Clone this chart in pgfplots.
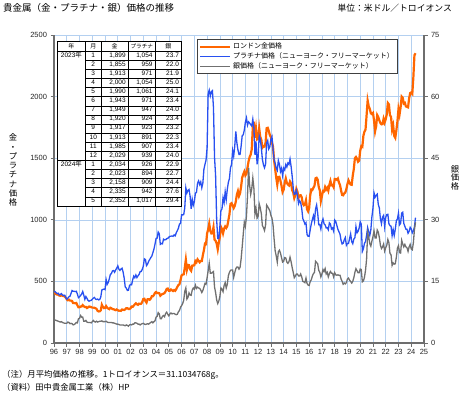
\documentclass[border=0pt]{standalone}
\usepackage{pgfplots}
\pgfplotsset{compat=1.18}
\usepackage{pgfplotstable}
\usepackage{array}
\usepackage{fontspec}
\setmainfont{Liberation Sans}
\newfontfamily\jp{Noto Sans CJK JP}
\definecolor{goldc}{RGB}{255,102,0}
\definecolor{platc}{RGB}{40,80,240}
\definecolor{silverc}{RGB}{112,112,112}
\definecolor{gridblue}{RGB}{180,208,240}
\definecolor{axisgrey}{RGB}{110,110,110}
\pgfplotstableread{
g p s
399 416 5.5
405 418 5.6
396 408 5.5
393 400 5.4
392 404 5.3
385 390 5.2
383 395 5.1
388 401 5.2
383 389 5.0
381 386 4.9
378 388 4.8
369 371 4.8
355 356 4.8
347 364 5.1
352 375 5.0
344 379 4.7
344 402 4.8
341 426 4.7
324 420 4.4
324 420 4.5
323 417 4.7
325 420 5.0
306 397 4.9
289 368 5.9
289 375 6.0
297 386 6.7
296 397 6.3
308 418 6.3
299 389 5.3
292 354 5.3
293 377 5.5
284 363 5.1
289 346 5.0
296 339 5.0
294 344 5.0
291 346 4.9
287 355 5.2
287 364 5.5
286 370 5.2
282 357 5.1
277 353 5.3
261 357 5.1
256 350 5.2
257 353 5.3
265 373 5.3
311 430 5.4
293 435 5.2
283 438 5.2
284 433 5.2
300 515 5.3
286 476 5.1
280 491 5.0
275 521 5.0
286 556 5.0
282 564 5.0
275 585 4.9
274 588 4.9
270 574 4.8
266 593 4.7
272 607 4.6
266 626 4.6
262 600 4.5
263 589 4.4
261 600 4.4
272 607 4.4
270 576 4.4
268 527 4.3
273 455 4.2
283 445 4.4
283 427 4.3
276 428 4.1
276 466 4.4
282 475 4.5
296 472 4.4
294 513 4.6
303 543 4.6
314 530 4.9
322 552 4.9
314 531 4.8
310 545 4.6
319 556 4.6
317 579 4.4
319 580 4.6
333 597 4.7
357 624 4.8
359 683 4.6
340 677 4.5
328 628 4.6
355 640 4.7
356 663 4.6
351 677 4.8
360 693 5.0
379 705 5.2
379 733 4.9
390 762 5.2
407 802 5.4
414 849 6.3
405 851 6.5
406 901 7.4
404 887 7.1
384 801 5.9
392 808 5.9
398 805 6.5
400 843 6.7
406 837 6.4
420 838 7.2
439 847 7.5
442 849 7.0
424 858 6.6
424 866 7.1
434 867 7.3
428 869 7.1
422 866 7.2
430 878 7.2
424 870 7.0
438 895 6.9
456 912 7.0
470 931 7.6
476 965 7.9
510 971 8.7
549 1040 9.1
555 1040 9.6
557 1042 10.4
610 1097 12.6
676 1260 13.4
596 1218 10.7
633 1239 11.1
632 1246 12.2
598 1192 11.7
586 1090 11.6
628 1167 12.9
629 1118 13.4
631 1147 13.1
665 1217 14.1
655 1222 13.3
679 1297 13.6
667 1316 13.4
655 1286 13.3
665 1307 12.9
665 1260 12.3
712 1298 12.8
754 1411 13.6
806 1450 14.5
803 1484 14.3
889 1587 15.9
922 2024 17.6
968 2053 19.4
910 2005 17.0
889 2040 17.0
890 2048 17.2
939 1910 17.4
839 1506 13.6
830 1357 12.3
806 1000 10.5
760 848 9.6
816 847 10.2
859 943 11.3
943 1075 13.4
925 1088 13.1
890 1180 12.5
928 1140 14.0
946 1228 14.7
934 1163 13.4
949 1248 14.3
996 1304 16.4
1043 1335 17.2
1128 1423 17.7
1135 1448 17.8
1118 1562 17.8
1096 1516 16.0
1113 1598 17.1
1148 1717 18.1
1205 1626 18.5
1233 1568 18.5
1193 1530 18.0
1215 1531 18.4
1271 1597 20.5
1343 1683 23.4
1370 1690 26.5
1391 1728 29.4
1360 1791 28.4
1374 1827 30.8
1424 1768 35.8
1474 1795 42.7
1510 1785 38.4
1529 1772 36.2
1573 1761 37.6
1756 1817 40.2
1771 1748 37.7
1665 1527 31.4
1739 1636 32.8
1652 1450 30.4
1656 1509 30.9
1742 1682 33.9
1673 1656 32.9
1650 1585 31.5
1585 1490 28.6
1596 1446 28.1
1594 1422 27.4
1626 1452 28.7
1744 1625 33.6
1747 1644 33.2
1722 1575 32.7
1688 1593 32.2
1670 1653 31.1
1628 1676 30.4
1592 1578 28.8
1485 1489 25.4
1414 1458 22.5
1343 1420 21.2
1286 1401 19.7
1347 1482 22.2
1349 1451 22.6
1317 1391 21.9
1275 1418 20.8
1225 1359 19.7
1244 1419 19.9
1300 1404 20.8
1336 1449 20.7
1299 1429 19.7
1287 1461 19.4
1279 1449 19.8
1311 1493 20.9
1296 1433 19.8
1239 1355 18.4
1222 1259 17.2
1176 1207 15.9
1201 1210 16.3
1251 1241 16.8
1227 1196 16.8
1179 1131 16.3
1198 1155 16.3
1199 1140 16.8
1182 1092 16.1
1131 1010 15.0
1118 990 14.9
1125 965 14.7
1159 976 15.8
1086 880 14.5
1068 866 14.1
1097 867 14.0
1200 920 15.0
1246 967 15.4
1242 1002 16.3
1260 1034 16.9
1276 988 17.2
1337 1088 19.9
1341 1120 19.6
1326 1054 19.3
1267 960 17.7
1239 961 17.2
1152 925 16.1
1192 982 16.8
1234 1007 17.9
1231 968 17.4
1266 959 18.1
1246 934 16.8
1260 937 17.2
1236 919 16.1
1283 975 16.9
1315 965 17.4
1280 925 17.0
1283 934 17.0
1265 908 16.1
1331 998 17.1
1331 987 16.6
1325 956 16.5
1335 923 16.6
1303 903 16.5
1282 884 16.5
1238 832 15.6
1202 804 15.0
1199 810 14.3
1215 837 14.6
1221 856 14.4
1250 793 14.7
1291 808 15.6
1320 808 15.8
1301 848 15.3
1286 886 15.0
1284 822 14.6
1359 806 15.0
1413 843 15.9
1500 855 17.2
1510 944 18.1
1495 894 17.6
1471 907 17.1
1480 933 17.1
1560 984 18.0
1597 965 17.9
1592 743 14.9
1683 764 15.1
1716 809 16.0
1732 823 17.7
1847 874 20.4
1968 937 26.9
1922 903 25.8
1901 873 24.2
1866 918 23.6
1858 1024 24.8
1867 1094 25.9
1808 1218 27.3
1718 1183 25.6
1760 1198 25.6
1850 1208 27.5
1834 1125 27.0
1807 1096 25.7
1785 1009 23.8
1775 968 23.0
1777 1022 23.4
1820 1036 24.1
1790 945 22.4
1817 1021 23.2
1856 1042 23.8
1948 1045 25.2
1937 968 24.4
1849 952 21.8
1836 948 21.5
1733 871 18.9
1766 920 19.5
1681 873 19.2
1665 923 19.3
1726 993 20.9
1798 1007 23.1
1899 1054 23.7
1855 959 22.0
1913 971 21.9
2000 1054 25.0
1990 1061 24.1
1943 971 23.4
1949 947 24.0
1920 924 23.4
1917 923 23.2
1913 891 22.3
1985 907 23.4
2029 939 24.0
2034 926 22.9
2023 894 22.7
2158 909 24.4
2335 942 27.6
2352 1017 29.4
}\data
\begin{document}
\begin{tikzpicture}[x=1pt,y=1pt]
\path[use as bounding box] (0,0) rectangle (474,394);
\begin{axis}[
  at={(54pt,51pt)}, anchor=south west,
  width=370pt, height=308pt, scale only axis,
  xmin=0, xmax=29, ymin=0, ymax=2500,
  xtick={0,...,29},
  xticklabels={96,97,98,99,00,01,02,03,04,05,06,07,08,09,10,11,12,13,14,15,16,17,18,19,20,21,22,23,24,25},
  ytick={0,500,...,2500},
  axis x line*=bottom, axis y line*=left,
  grid=major, grid style={gridblue, line width=0.6pt},
  tick align=outside, major tick length=3.5pt,
  tick style={axisgrey, line width=0.7pt},
  axis line style={-, axisgrey, line width=1.3pt},
  ticklabel style={font=\fontsize{7.5}{9}\selectfont, text=black!85},
  xticklabel style={yshift=1pt},
  /pgf/number format/assume math mode=true,
  /pgf/number format/1000 sep={},
]
\addplot[goldc, line width=2.2pt] table[x expr=\coordindex/12, y=g] {\data};
\addplot[platc, line width=1.3pt] table[x expr=\coordindex/12, y=p] {\data};
\end{axis}
\begin{axis}[
  at={(54pt,51pt)}, anchor=south west,
  width=370pt, height=308pt, scale only axis,
  xmin=0, xmax=29, ymin=0, ymax=75,
  ytick={0,15,...,75},
  axis x line=none, axis y line*=right,
  tick align=outside, major tick length=3.5pt,
  tick style={axisgrey, line width=0.7pt},
  axis line style={-, axisgrey, line width=1.3pt},
  ticklabel style={font=\fontsize{7.5}{9}\selectfont, text=black!85},
  /pgf/number format/assume math mode=true,
  legend style={at={(rel axis cs:0.3865,0.987)}, anchor=north west,
    draw=black!75, line width=0.8pt, fill=white,
    font=\jp\fontsize{7}{8}\selectfont, inner sep=1.5pt, row sep=-1.5pt},
  legend cell align=left,
  legend image code/.code={\draw[#1] (0pt,0pt) -- (30pt,0pt);},
]
\addlegendimage{goldc, line width=2.2pt}
\addlegendentry{ロンドン金価格}
\addlegendimage{platc, line width=1.3pt}
\addlegendentry{プラチナ価格（ニューヨーク・フリーマーケット）}
\addplot[silverc, line width=1.3pt] table[x expr=\coordindex/12, y=s] {\data};
\addlegendentry{銀価格（ニューヨーク・フリーマーケット）}
\end{axis}
\node[anchor=north west, inner sep=0pt, fill=white] at (57,353) {%
\fontsize{6.5}{9.05}\selectfont
\setlength\tabcolsep{2.2pt}\setlength\arrayrulewidth{0.5pt}%
\begin{tabular}{|w{c}{23pt}|w{c}{11pt}|w{r}{22pt}|w{r}{21.5pt}|w{r}{21pt}|}
\hline
{\jp\fontsize{6}{9.05}\selectfont 年} & {\jp\fontsize{6}{9.05}\selectfont 月} & \multicolumn{1}{c|}{\jp\fontsize{6}{9.05}\selectfont 金} & \multicolumn{1}{c|}{\jp\fontsize{5.6}{9.05}\selectfont プラチナ} & \multicolumn{1}{c|}{\jp\fontsize{6}{9.05}\selectfont 銀}\\ \hline
2023{\jp 年} & 1 & 1,899 & 1,054 & 23.7\\ \cline{2-5}
 & 2 & 1,855 & 959 & 22.0\\ \cline{2-5}
 & 3 & 1,913 & 971 & 21.9\\ \cline{2-5}
 & 4 & 2,000 & 1,054 & 25.0\\ \cline{2-5}
 & 5 & 1,990 & 1,061 & 24.1\\ \cline{2-5}
 & 6 & 1,943 & 971 & 23.4\\ \cline{2-5}
 & 7 & 1,949 & 947 & 24.0\\ \cline{2-5}
 & 8 & 1,920 & 924 & 23.4\\ \cline{2-5}
 & 9 & 1,917 & 923 & 23.2\\ \cline{2-5}
 & 10 & 1,913 & 891 & 22.3\\ \cline{2-5}
 & 11 & 1,985 & 907 & 23.4\\ \cline{2-5}
 & 12 & 2,029 & 939 & 24.0\\ \hline
2024{\jp 年} & 1 & 2,034 & 926 & 22.9\\ \cline{2-5}
 & 2 & 2,023 & 894 & 22.7\\ \cline{2-5}
 & 3 & 2,158 & 909 & 24.4\\ \cline{2-5}
 & 4 & 2,335 & 942 & 27.6\\ \cline{2-5}
 & 5 & 2,352 & 1,017 & 29.4\\ \hline
\end{tabular}};
\node[anchor=west, inner sep=0pt, font=\jp\fontsize{9.5}{11}\selectfont] at (3,386) {貴金属（金・プラチナ・銀）価格の推移};
\node[anchor=east, inner sep=0pt, font=\jp\fontsize{8.8}{10}\selectfont] at (452,386) {単位：米ドル／トロイオンス};
\node[align=center, inner sep=0pt, font=\jp\fontsize{8.3}{9.25}\selectfont] at (13,224) {金\\・\\プ\\ラ\\チ\\ナ\\価\\格};
\node[align=center, inner sep=0pt, font=\jp\fontsize{8.3}{8.6}\selectfont] at (455,216.5) {銀\\価\\格};
\node[anchor=west, inner sep=0pt, font=\jp\fontsize{8.4}{10}\selectfont] at (2,19.5) {（注）月平均価格の推移。1トロイオンス＝31.1034768g。};
\node[anchor=west, inner sep=0pt, font=\jp\fontsize{8.3}{10}\selectfont] at (2,7) {（資料）田中貴金属工業（株）HP};
\end{tikzpicture}
\end{document}
